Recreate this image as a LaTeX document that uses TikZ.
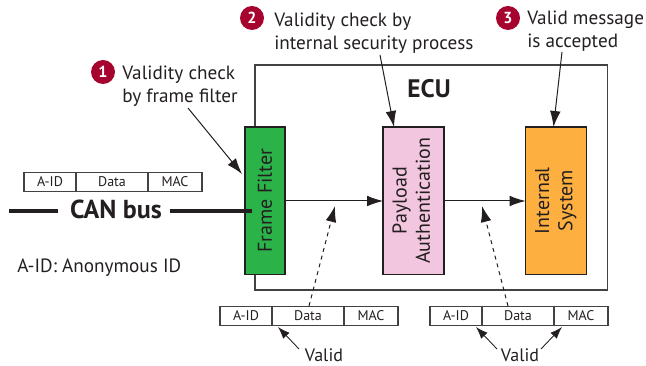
\documentclass[tikz,border=0pt]{standalone}
\usepackage{fontspec}
\setmainfont{PT Sans}
\usetikzlibrary{positioning,arrows.meta}
\definecolor{badgered}{HTML}{A6032F}
\definecolor{linedark}{HTML}{231F20}
\definecolor{filtergreen}{HTML}{2BB34A}
\definecolor{payloadpink}{HTML}{F2C6DE}
\definecolor{systemorange}{HTML}{FDB03F}
\tikzset{
  block/.style={draw=linedark, line width=0.9pt, minimum height=110.6pt, outer sep=0pt, inner sep=0pt, align=center, text=linedark, font=\fontsize{15}{17.5}\selectfont},
  cell/.style={draw=linedark!85, line width=0.8pt, minimum height=14pt, outer sep=0pt, inner sep=0pt, text=linedark, font=\fontsize{10.5}{11}\selectfont},
  badge/.style={circle, fill=badgered, minimum size=18pt, inner sep=0pt, text=white, font=\fontsize{12}{12}\selectfont\bfseries},
  note/.style={anchor=west, align=left, inner sep=0pt, text=linedark, font=\fontsize{14.4}{17.25}\selectfont},
  bigarrow/.style={-{Latex[length=12pt,width=8pt]}, draw=linedark, line width=0.75pt},
  smallarrow/.style={-{Latex[length=9pt,width=6.5pt]}, draw=linedark, line width=0.65pt},
}
\begin{document}
\begin{tikzpicture}[x=0.75pt, y=-0.75pt]
  \useasboundingbox (0,0) rectangle (646,366);

  \node (ecu) [draw=linedark!85, line width=0.9pt, minimum width=264.4pt, minimum height=168.8pt, outer sep=0pt] at (431.3,177.5) {};
  \node (ecutitle) [inner sep=0pt, text=linedark, font=\fontsize{19}{20}\selectfont\bfseries] at (429,89) {ECU};

  \node (frame) [block, fill=filtergreen, minimum width=30pt] at (265,200.7) {\rotatebox{90}{Frame Filter}};
  \node (payload) [block, fill=payloadpink, minimum width=45.7pt] at (413.5,200.7) {\rotatebox{90}{\begin{tabular}{@{}c@{}}Payload\\Authentication\end{tabular}}};
  \node (internal) [block, fill=systemorange, minimum width=45.7pt] at (556,200.7) {\rotatebox{90}{\begin{tabular}{@{}c@{}}Internal\\System\end{tabular}}};

  % packets
  \node (aid0) [cell, minimum width=39pt] at (50,182) {A-ID};
  \node (data0) [cell, minimum width=54pt, right=0pt of aid0] {Data};
  \node (mac0) [cell, minimum width=40.5pt, right=0pt of data0] {MAC};

  \node (aid1) [cell, minimum width=39pt] at (246,316) {A-ID};
  \node (data1) [cell, minimum width=54pt, right=0pt of aid1] {Data};
  \node (mac1) [cell, minimum width=40.5pt, right=0pt of data1] {MAC};

  \node (aid2) [cell, minimum width=39pt] at (456,316) {A-ID};
  \node (data2) [cell, minimum width=54pt, right=0pt of aid2] {Data};
  \node (mac2) [cell, minimum width=40.5pt, right=0pt of data2] {MAC};

  % bus
  \node (canbus) [inner sep=0pt, text=linedark, font=\fontsize{19.5}{20}\selectfont\bfseries] at (116,209) {CAN bus};
  \coordinate (busleft) at (9,211);
  \coordinate (busstop) at (58,211);
  \coordinate (busstart) at (170,211);
  \coordinate (busend) at (252,211);
  \draw [line width=2.5pt, draw=linedark] (busleft) -- (busstop);
  \draw [line width=2.5pt, draw=linedark] (busstart) -- (busend);
  \node (legend) [note] at (17,268) {A-ID: Anonymous ID};

  % numbered notes
  \node (badge1) [badge] at (103,72) {1};
  \node (note1) [note] at (122,86.5) {Validity check\\by frame filter};
  \node (badge2) [badge] at (252,18) {2};
  \node (note2) [note] at (274,33.5) {Validity check by\\internal security process};
  \node (badge3) [badge] at (508,18) {3};
  \node (note3) [note] at (527,31.5) {Valid message\\is accepted};

  \node (valid1) [inner sep=0pt, text=linedark, font=\fontsize{13.5}{15}\selectfont] at (324,355) {Valid};
  \node (valid2) [inner sep=0pt, text=linedark, font=\fontsize{13.5}{15}\selectfont] at (520,355) {Valid};

  \coordinate (from1) at (188,108);
  \coordinate (to1) at (242,174);
  \coordinate (from2) at (380,55);
  \coordinate (to2) at (394,127);
  \coordinate (from3) at (562,52);
  \coordinate (to3) at (553.5,127);
  \coordinate (dash1) at (309,306);
  \coordinate (tip1) at (335,206);
  \coordinate (dash2) at (508,306);
  \coordinate (tip2) at (482,206);
  \coordinate (left1) at (299,349);
  \coordinate (hit1) at (278,327);
  \coordinate (left2) at (497,349);
  \coordinate (hit2) at (476,327);
  \coordinate (right2) at (541,349);
  \coordinate (hit3) at (562,327);

  \draw [bigarrow] (from1) -- (to1);
  \draw [bigarrow] (from2) -- (to2);
  \draw [bigarrow] (from3) -- (to3);

  \draw [bigarrow] (frame.east |- 0,201) -- (payload.west |- 0,201);
  \draw [bigarrow] (payload.east |- 0,201) -- (internal.west |- 0,201);

  \draw [bigarrow, dashed] (dash1) -- (tip1);
  \draw [bigarrow, dashed] (dash2) -- (tip2);

  \draw [smallarrow] (left1) -- (hit1);
  \draw [smallarrow] (left2) -- (hit2);
  \draw [smallarrow] (right2) -- (hit3);
\end{tikzpicture}
\end{document}
